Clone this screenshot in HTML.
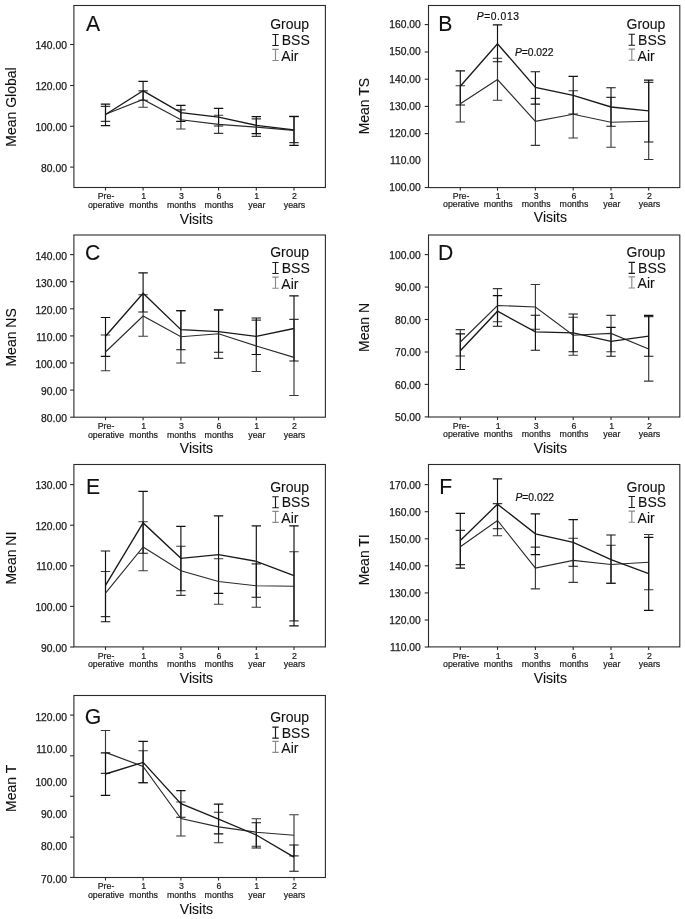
<!DOCTYPE html>
<html><head><meta charset="utf-8"><title>Figure</title><style>
html,body{margin:0;padding:0;background:#fff;}
svg{display:block;will-change:transform;}
text{font-family:"Liberation Sans", sans-serif;fill:#111;stroke:#111;stroke-width:0.1px;}
.bx{fill:none;stroke:#2a2a2a;stroke-width:1.1;}
.ax{stroke:#2a2a2a;stroke-width:1.1;}
.yl{font-size:10.3px;text-anchor:end;fill:#1a1a1a;stroke:#1a1a1a;stroke-width:0.25px;}
.yt{font-size:14px;text-anchor:middle;}
.xl{font-size:8.8px;text-anchor:middle;fill:#1a1a1a;stroke:#1a1a1a;stroke-width:0.2px;}
.xt{font-size:14px;text-anchor:middle;}
.lt{font-size:21.2px;}
.lg{font-size:14px;}
.an{font-size:10.3px;stroke-width:0.2px;}
.pi{font-style:italic;}
.eb{fill:none;stroke:#111;stroke-width:1.15;}
.ea{fill:none;stroke:#383838;stroke-width:1.15;}
.ib{fill:none;stroke:#1a1a1a;stroke-width:1.15;}
.ia{fill:none;stroke:#8a8a8a;stroke-width:1.15;}
.lb{fill:none;stroke:#1a1a1a;stroke-width:1.35;stroke-linejoin:miter;}
.la{fill:none;stroke:#2a2a2a;stroke-width:1.15;stroke-linejoin:miter;}
</style></head>
<body><svg width="685" height="919" viewBox="0 0 685 919">
<rect width="685" height="919" fill="#fff"/>
<rect x="73.9" y="5.5" width="251.5" height="182" class="bx"/>
<line x1="70.1" y1="44.5" x2="73.9" y2="44.5" class="ax"/>
<line x1="70.1" y1="85.5" x2="73.9" y2="85.5" class="ax"/>
<line x1="70.1" y1="126.3" x2="73.9" y2="126.3" class="ax"/>
<line x1="70.1" y1="167.1" x2="73.9" y2="167.1" class="ax"/>
<text x="66.9" y="49.4" class="yl">140.00</text>
<text x="66.9" y="90.4" class="yl">120.00</text>
<text x="66.9" y="131.2" class="yl">100.00</text>
<text x="66.9" y="172" class="yl">80.00</text>
<text transform="translate(15.6,107) rotate(-90)" class="yt">Mean Global</text>
<line x1="105.5" y1="187.5" x2="105.5" y2="190.5" class="ax"/>
<text x="106" y="199.4" class="xl">Pre-</text>
<text x="106" y="207.8" class="xl">operative</text>
<line x1="143.1" y1="187.5" x2="143.1" y2="190.5" class="ax"/>
<text x="143.6" y="199.4" class="xl">1</text>
<text x="143.6" y="207.8" class="xl">months</text>
<line x1="180.9" y1="187.5" x2="180.9" y2="190.5" class="ax"/>
<text x="181.4" y="199.4" class="xl">3</text>
<text x="181.4" y="207.8" class="xl">months</text>
<line x1="218.55" y1="187.5" x2="218.55" y2="190.5" class="ax"/>
<text x="219.05" y="199.4" class="xl">6</text>
<text x="219.05" y="207.8" class="xl">months</text>
<line x1="256.3" y1="187.5" x2="256.3" y2="190.5" class="ax"/>
<text x="256.8" y="199.4" class="xl">1</text>
<text x="256.8" y="207.8" class="xl">year</text>
<line x1="294" y1="187.5" x2="294" y2="190.5" class="ax"/>
<text x="294.5" y="199.4" class="xl">2</text>
<text x="294.5" y="207.8" class="xl">years</text>
<text x="196.47" y="223.9" class="xt">Visits</text>
<text transform="translate(86,31.3) scale(1,1.05)" class="lt">A</text>
<text x="270.2" y="29.1" class="lg">Group</text>
<text x="281.75" y="44.9" class="lg">BSS</text>
<text x="281.3" y="60.9" class="lg">Air</text>
<path d="M272.3 34.5H278.7M275.5 34.5V45.5M272.3 45.5H278.7" class="ib"/>
<path d="M272.3 49.4H278.7M275.5 49.4V60.5M272.3 60.5H278.7" class="ia"/>
<path d="M100.8 106.4H110.2M105.5 106.4V121.4M100.8 121.4H110.2M138.4 90.8H147.8M143.1 90.8V107.2M138.4 107.2H147.8M176.2 109.9H185.6M180.9 109.9V129M176.2 129H185.6M213.85 115.2H223.25M218.55 115.2V133.3M213.85 133.3H223.25M251.6 118.9H261M256.3 118.9V136.3M251.6 136.3H261M289.3 116.6H298.7M294 116.6V142.6M289.3 142.6H298.7" class="ea"/>
<path d="M100.8 104.1H110.2M105.5 104.1V125.6M100.8 125.6H110.2M138.4 81.4H147.8M143.1 81.4V100.2M138.4 100.2H147.8M176.2 105.3H185.6M180.9 105.3V121.4M176.2 121.4H185.6M213.85 108.3H223.25M218.55 108.3V126M213.85 126H223.25M251.6 116.6H261M256.3 116.6V133.6M251.6 133.6H261M289.3 116.3H298.7M294 116.3V145.4M289.3 145.4H298.7" class="eb"/>
<polyline points="105.5,114.2 143.1,99.5 180.9,119.8 218.55,124.4 256.3,127.1 294,130.4" class="la"/>
<polyline points="105.5,114.5 143.1,90.8 180.9,112.6 218.55,117.2 256.3,125.3 294,129.8" class="lb"/>
<rect x="428.5" y="5.5" width="251.3" height="182.1" class="bx"/>
<line x1="424.7" y1="24.6" x2="428.5" y2="24.6" class="ax"/>
<line x1="424.7" y1="52" x2="428.5" y2="52" class="ax"/>
<line x1="424.7" y1="79.2" x2="428.5" y2="79.2" class="ax"/>
<line x1="424.7" y1="106.4" x2="428.5" y2="106.4" class="ax"/>
<line x1="424.7" y1="133.6" x2="428.5" y2="133.6" class="ax"/>
<line x1="424.7" y1="187.5" x2="428.5" y2="187.5" class="ax"/>
<text x="420.8" y="28" class="yl">160.00</text>
<text x="420.8" y="55.4" class="yl">150.00</text>
<text x="420.8" y="82.6" class="yl">140.00</text>
<text x="420.8" y="109.8" class="yl">130.00</text>
<text x="420.8" y="137" class="yl">120.00</text>
<text x="420.8" y="163.6" class="yl">110.00</text>
<text x="420.8" y="190.6" class="yl">100.00</text>
<text transform="translate(368.8,106.1) rotate(-90)" class="yt">Mean TS</text>
<line x1="460.3" y1="187.6" x2="460.3" y2="190.6" class="ax"/>
<text x="461.1" y="198.7" class="xl">Pre-</text>
<text x="461.1" y="207.1" class="xl">operative</text>
<line x1="497.5" y1="187.6" x2="497.5" y2="190.6" class="ax"/>
<text x="498.3" y="198.7" class="xl">1</text>
<text x="498.3" y="207.1" class="xl">months</text>
<line x1="535.4" y1="187.6" x2="535.4" y2="190.6" class="ax"/>
<text x="536.2" y="198.7" class="xl">3</text>
<text x="536.2" y="207.1" class="xl">months</text>
<line x1="573.2" y1="187.6" x2="573.2" y2="190.6" class="ax"/>
<text x="574" y="198.7" class="xl">6</text>
<text x="574" y="207.1" class="xl">months</text>
<line x1="611" y1="187.6" x2="611" y2="190.6" class="ax"/>
<text x="611.8" y="198.7" class="xl">1</text>
<text x="611.8" y="207.1" class="xl">year</text>
<line x1="648.7" y1="187.6" x2="648.7" y2="190.6" class="ax"/>
<text x="649.5" y="198.7" class="xl">2</text>
<text x="649.5" y="207.1" class="xl">years</text>
<text x="550.4" y="222.3" class="xt">Visits</text>
<text transform="translate(438.3,31.3) scale(1,1.05)" class="lt">B</text>
<text x="626.5" y="29.1" class="lg">Group</text>
<text x="638.05" y="44.6" class="lg">BSS</text>
<text x="637.6" y="60.6" class="lg">Air</text>
<path d="M628.6 34.2H635M631.8 34.2V45.2M628.6 45.2H635" class="ib"/>
<path d="M628.6 49.1H635M631.8 49.1V60.2M628.6 60.2H635" class="ia"/>
<path d="M455.6 85.7H465M460.3 85.7V122M455.6 122H465M492.8 58.2H502.2M497.5 58.2V100.2M492.8 100.2H502.2M530.7 98.3H540.1M535.4 98.3V145.3M530.7 145.3H540.1M568.5 90.7H577.9M573.2 90.7V138M568.5 138H577.9M606.3 97.3H615.7M611 97.3V147.2M606.3 147.2H615.7M644 82.4H653.4M648.7 82.4V159.5M644 159.5H653.4" class="ea"/>
<path d="M455.6 70.8H465M460.3 70.8V105M455.6 105H465M492.8 24.9H502.2M497.5 24.9V61.7M492.8 61.7H502.2M530.7 71.7H540.1M535.4 71.7V104.1M530.7 104.1H540.1M568.5 76.3H577.9M573.2 76.3V114M568.5 114H577.9M606.3 87.7H615.7M611 87.7V126.2M606.3 126.2H615.7M644 80.1H653.4M648.7 80.1V142M644 142H653.4" class="eb"/>
<polyline points="460.3,103.7 497.5,79.6 535.4,121.3 573.2,114.3 611,122.2 648.7,121.3" class="la"/>
<polyline points="460.3,86.2 497.5,43.7 535.4,87.4 573.2,95.4 611,107 648.7,110.8" class="lb"/>
<text x="476.7" y="20.2" textLength="42.3" lengthAdjust="spacing" class="an"><tspan class="pi">P</tspan>=0.013</text>
<text x="514.9" y="56.4" textLength="38.5" lengthAdjust="spacing" class="an"><tspan class="pi">P</tspan>=0.022</text>
<rect x="73.9" y="235" width="251.5" height="182.2" class="bx"/>
<line x1="70.1" y1="254.6" x2="73.9" y2="254.6" class="ax"/>
<line x1="70.1" y1="281.7" x2="73.9" y2="281.7" class="ax"/>
<line x1="70.1" y1="308.8" x2="73.9" y2="308.8" class="ax"/>
<line x1="70.1" y1="335.9" x2="73.9" y2="335.9" class="ax"/>
<line x1="70.1" y1="363" x2="73.9" y2="363" class="ax"/>
<line x1="70.1" y1="390.1" x2="73.9" y2="390.1" class="ax"/>
<line x1="70.1" y1="417.2" x2="73.9" y2="417.2" class="ax"/>
<text x="66.9" y="259.5" class="yl">140.00</text>
<text x="66.9" y="286.6" class="yl">130.00</text>
<text x="66.9" y="313.7" class="yl">120.00</text>
<text x="66.9" y="340.8" class="yl">110.00</text>
<text x="66.9" y="367.9" class="yl">100.00</text>
<text x="66.9" y="395" class="yl">90.00</text>
<text x="66.9" y="422.1" class="yl">80.00</text>
<text transform="translate(15.7,337.4) rotate(-90)" class="yt">Mean NS</text>
<line x1="105.5" y1="417.2" x2="105.5" y2="420.2" class="ax"/>
<text x="106" y="429.1" class="xl">Pre-</text>
<text x="106" y="437.5" class="xl">operative</text>
<line x1="143.1" y1="417.2" x2="143.1" y2="420.2" class="ax"/>
<text x="143.6" y="429.1" class="xl">1</text>
<text x="143.6" y="437.5" class="xl">months</text>
<line x1="180.9" y1="417.2" x2="180.9" y2="420.2" class="ax"/>
<text x="181.4" y="429.1" class="xl">3</text>
<text x="181.4" y="437.5" class="xl">months</text>
<line x1="218.55" y1="417.2" x2="218.55" y2="420.2" class="ax"/>
<text x="219.05" y="429.1" class="xl">6</text>
<text x="219.05" y="437.5" class="xl">months</text>
<line x1="256.3" y1="417.2" x2="256.3" y2="420.2" class="ax"/>
<text x="256.8" y="429.1" class="xl">1</text>
<text x="256.8" y="437.5" class="xl">year</text>
<line x1="294" y1="417.2" x2="294" y2="420.2" class="ax"/>
<text x="294.5" y="429.1" class="xl">2</text>
<text x="294.5" y="437.5" class="xl">years</text>
<text x="196.47" y="453" class="xt">Visits</text>
<text transform="translate(84.9,259.7) scale(1,1.05)" class="lt">C</text>
<text x="270.2" y="256.9" class="lg">Group</text>
<text x="281.75" y="272.9" class="lg">BSS</text>
<text x="281.3" y="288.6" class="lg">Air</text>
<path d="M272.3 262.5H278.7M275.5 262.5V273.5M272.3 273.5H278.7" class="ib"/>
<path d="M272.3 277.1H278.7M275.5 277.1V288.2M272.3 288.2H278.7" class="ia"/>
<path d="M100.8 335H110.2M105.5 335V370.7M100.8 370.7H110.2M138.4 294.7H147.8M143.1 294.7V336.2M138.4 336.2H147.8M176.2 311H185.6M180.9 311V363M176.2 363H185.6M213.85 310H223.25M218.55 310V358.3M213.85 358.3H223.25M251.6 320.1H261M256.3 320.1V371.5M251.6 371.5H261M289.3 319.4H298.7M294 319.4V395.5M289.3 395.5H298.7" class="ea"/>
<path d="M100.8 317.5H110.2M105.5 317.5V356.4M100.8 356.4H110.2M138.4 272.8H147.8M143.1 272.8V312M138.4 312H147.8M176.2 310.5H185.6M180.9 310.5V349.7M176.2 349.7H185.6M213.85 309.8H223.25M218.55 309.8V352.2M213.85 352.2H223.25M251.6 318H261M256.3 318V354.5M251.6 354.5H261M289.3 295.8H298.7M294 295.8V361M289.3 361H298.7" class="eb"/>
<polyline points="105.5,352 143.1,316 180.9,336.7 218.55,333.8 256.3,346 294,357.4" class="la"/>
<polyline points="105.5,336.2 143.1,293.3 180.9,329.7 218.55,331.7 256.3,336.4 294,328.5" class="lb"/>
<rect x="428.5" y="235" width="251.3" height="182" class="bx"/>
<line x1="424.7" y1="254.6" x2="428.5" y2="254.6" class="ax"/>
<line x1="424.7" y1="287.1" x2="428.5" y2="287.1" class="ax"/>
<line x1="424.7" y1="319.5" x2="428.5" y2="319.5" class="ax"/>
<line x1="424.7" y1="352" x2="428.5" y2="352" class="ax"/>
<line x1="424.7" y1="384.4" x2="428.5" y2="384.4" class="ax"/>
<line x1="424.7" y1="416.9" x2="428.5" y2="416.9" class="ax"/>
<text x="420.8" y="258.8" class="yl">100.00</text>
<text x="420.8" y="291.3" class="yl">90.00</text>
<text x="420.8" y="323.7" class="yl">80.00</text>
<text x="420.8" y="356.2" class="yl">70.00</text>
<text x="420.8" y="388.6" class="yl">60.00</text>
<text x="420.8" y="421.1" class="yl">50.00</text>
<text transform="translate(368.8,327.4) rotate(-90)" class="yt">Mean N</text>
<line x1="460.3" y1="417" x2="460.3" y2="420" class="ax"/>
<text x="461.1" y="428.9" class="xl">Pre-</text>
<text x="461.1" y="437.3" class="xl">operative</text>
<line x1="497.5" y1="417" x2="497.5" y2="420" class="ax"/>
<text x="498.3" y="428.9" class="xl">1</text>
<text x="498.3" y="437.3" class="xl">months</text>
<line x1="535.4" y1="417" x2="535.4" y2="420" class="ax"/>
<text x="536.2" y="428.9" class="xl">3</text>
<text x="536.2" y="437.3" class="xl">months</text>
<line x1="573.2" y1="417" x2="573.2" y2="420" class="ax"/>
<text x="574" y="428.9" class="xl">6</text>
<text x="574" y="437.3" class="xl">months</text>
<line x1="611" y1="417" x2="611" y2="420" class="ax"/>
<text x="611.8" y="428.9" class="xl">1</text>
<text x="611.8" y="437.3" class="xl">year</text>
<line x1="648.7" y1="417" x2="648.7" y2="420" class="ax"/>
<text x="649.5" y="428.9" class="xl">2</text>
<text x="649.5" y="437.3" class="xl">years</text>
<text x="550.4" y="453" class="xt">Visits</text>
<text transform="translate(438,260) scale(1,1.05)" class="lt">D</text>
<text x="626.5" y="257.1" class="lg">Group</text>
<text x="638.05" y="272.8" class="lg">BSS</text>
<text x="637.6" y="288.4" class="lg">Air</text>
<path d="M628.6 262.4H635M631.8 262.4V273.4M628.6 273.4H635" class="ib"/>
<path d="M628.6 276.9H635M631.8 276.9V288M628.6 288H635" class="ia"/>
<path d="M455.6 329.6H465M460.3 329.6V356M455.6 356H465M492.8 288.6H502.2M497.5 288.6V321.7M492.8 321.7H502.2M530.7 284.5H540.1M535.4 284.5V329.2M530.7 329.2H540.1M568.5 317.2H577.9M573.2 317.2V355.2M568.5 355.2H577.9M606.3 315.4H615.7M611 315.4V351.7M606.3 351.7H615.7M644 316.6H653.4M648.7 316.6V381.1M644 381.1H653.4" class="ea"/>
<path d="M455.6 333.9H465M460.3 333.9V369.5M455.6 369.5H465M492.8 295.6H502.2M497.5 295.6V326.2M492.8 326.2H502.2M530.7 315.2H540.1M535.4 315.2V350.2M530.7 350.2H540.1M568.5 314H577.9M573.2 314V351.7M568.5 351.7H577.9M606.3 327.3H615.7M611 327.3V356.2M606.3 356.2H615.7M644 315.4H653.4M648.7 315.4V356.2M644 356.2H653.4" class="eb"/>
<polyline points="460.3,342 497.5,305.5 535.4,307 573.2,335.2 611,333.4 648.7,349" class="la"/>
<polyline points="460.3,350.7 497.5,311.2 535.4,331.8 573.2,332.9 611,341.3 648.7,336.1" class="lb"/>
<rect x="73.9" y="464.5" width="251.5" height="182.4" class="bx"/>
<line x1="70.1" y1="484.6" x2="73.9" y2="484.6" class="ax"/>
<line x1="70.1" y1="525.2" x2="73.9" y2="525.2" class="ax"/>
<line x1="70.1" y1="565.8" x2="73.9" y2="565.8" class="ax"/>
<line x1="70.1" y1="606.4" x2="73.9" y2="606.4" class="ax"/>
<line x1="70.1" y1="647" x2="73.9" y2="647" class="ax"/>
<text x="66.9" y="489.1" class="yl">130.00</text>
<text x="66.9" y="529.7" class="yl">120.00</text>
<text x="66.9" y="570.3" class="yl">110.00</text>
<text x="66.9" y="610.9" class="yl">100.00</text>
<text x="66.9" y="651.5" class="yl">90.00</text>
<text transform="translate(15.7,558.1) rotate(-90)" class="yt">Mean NI</text>
<line x1="105.5" y1="646.9" x2="105.5" y2="649.9" class="ax"/>
<text x="106" y="658.8" class="xl">Pre-</text>
<text x="106" y="667.2" class="xl">operative</text>
<line x1="143.1" y1="646.9" x2="143.1" y2="649.9" class="ax"/>
<text x="143.6" y="658.8" class="xl">1</text>
<text x="143.6" y="667.2" class="xl">months</text>
<line x1="180.9" y1="646.9" x2="180.9" y2="649.9" class="ax"/>
<text x="181.4" y="658.8" class="xl">3</text>
<text x="181.4" y="667.2" class="xl">months</text>
<line x1="218.55" y1="646.9" x2="218.55" y2="649.9" class="ax"/>
<text x="219.05" y="658.8" class="xl">6</text>
<text x="219.05" y="667.2" class="xl">months</text>
<line x1="256.3" y1="646.9" x2="256.3" y2="649.9" class="ax"/>
<text x="256.8" y="658.8" class="xl">1</text>
<text x="256.8" y="667.2" class="xl">year</text>
<line x1="294" y1="646.9" x2="294" y2="649.9" class="ax"/>
<text x="294.5" y="658.8" class="xl">2</text>
<text x="294.5" y="667.2" class="xl">years</text>
<text x="196.47" y="683" class="xt">Visits</text>
<text transform="translate(85.9,494.3) scale(1,1.05)" class="lt">E</text>
<text x="270.2" y="491.8" class="lg">Group</text>
<text x="281.75" y="507.1" class="lg">BSS</text>
<text x="281.3" y="522.8" class="lg">Air</text>
<path d="M272.3 496.7H278.7M275.5 496.7V507.7M272.3 507.7H278.7" class="ib"/>
<path d="M272.3 511.3H278.7M275.5 511.3V522.4M272.3 522.4H278.7" class="ia"/>
<path d="M100.8 571.5H110.2M105.5 571.5V616.6M100.8 616.6H110.2M138.4 521.7H147.8M143.1 521.7V570.7M138.4 570.7H147.8M176.2 546.2H185.6M180.9 546.2V595.3M176.2 595.3H185.6M213.85 558.7H223.25M218.55 558.7V604.2M213.85 604.2H223.25M251.6 563.9H261M256.3 563.9V607.2M251.6 607.2H261M289.3 551.7H298.7M294 551.7V620.9M289.3 620.9H298.7" class="ea"/>
<path d="M100.8 551H110.2M105.5 551V621.7M100.8 621.7H110.2M138.4 491.4H147.8M143.1 491.4V553.2M138.4 553.2H147.8M176.2 526.4H185.6M180.9 526.4V590.7M176.2 590.7H185.6M213.85 515.8H223.25M218.55 515.8V593.4M213.85 593.4H223.25M251.6 525.9H261M256.3 525.9V597.2M251.6 597.2H261M289.3 525.9H298.7M294 525.9V625.8M289.3 625.8H298.7" class="eb"/>
<polyline points="105.5,593.2 143.1,546.9 180.9,570.7 218.55,581.5 256.3,585.8 294,586.2" class="la"/>
<polyline points="105.5,585.3 143.1,522.9 180.9,558.3 218.55,554.7 256.3,561.3 294,575.7" class="lb"/>
<rect x="428.5" y="464.5" width="251.3" height="182.4" class="bx"/>
<line x1="424.7" y1="484.6" x2="428.5" y2="484.6" class="ax"/>
<line x1="424.7" y1="511.7" x2="428.5" y2="511.7" class="ax"/>
<line x1="424.7" y1="538.8" x2="428.5" y2="538.8" class="ax"/>
<line x1="424.7" y1="565.8" x2="428.5" y2="565.8" class="ax"/>
<line x1="424.7" y1="592.9" x2="428.5" y2="592.9" class="ax"/>
<line x1="424.7" y1="620" x2="428.5" y2="620" class="ax"/>
<line x1="424.7" y1="647" x2="428.5" y2="647" class="ax"/>
<text x="420.8" y="488.8" class="yl">170.00</text>
<text x="420.8" y="515.9" class="yl">160.00</text>
<text x="420.8" y="543" class="yl">150.00</text>
<text x="420.8" y="570" class="yl">140.00</text>
<text x="420.8" y="597.1" class="yl">130.00</text>
<text x="420.8" y="624.2" class="yl">120.00</text>
<text x="420.8" y="651.2" class="yl">110.00</text>
<text transform="translate(368.5,559.8) rotate(-90)" class="yt">Mean TI</text>
<line x1="460.3" y1="646.9" x2="460.3" y2="649.9" class="ax"/>
<text x="461.1" y="658.8" class="xl">Pre-</text>
<text x="461.1" y="667.2" class="xl">operative</text>
<line x1="497.5" y1="646.9" x2="497.5" y2="649.9" class="ax"/>
<text x="498.3" y="658.8" class="xl">1</text>
<text x="498.3" y="667.2" class="xl">months</text>
<line x1="535.4" y1="646.9" x2="535.4" y2="649.9" class="ax"/>
<text x="536.2" y="658.8" class="xl">3</text>
<text x="536.2" y="667.2" class="xl">months</text>
<line x1="573.2" y1="646.9" x2="573.2" y2="649.9" class="ax"/>
<text x="574" y="658.8" class="xl">6</text>
<text x="574" y="667.2" class="xl">months</text>
<line x1="611" y1="646.9" x2="611" y2="649.9" class="ax"/>
<text x="611.8" y="658.8" class="xl">1</text>
<text x="611.8" y="667.2" class="xl">year</text>
<line x1="648.7" y1="646.9" x2="648.7" y2="649.9" class="ax"/>
<text x="649.5" y="658.8" class="xl">2</text>
<text x="649.5" y="667.2" class="xl">years</text>
<text x="550.4" y="683" class="xt">Visits</text>
<text transform="translate(439.2,494.3) scale(1,1.05)" class="lt">F</text>
<text x="626.5" y="492" class="lg">Group</text>
<text x="638.05" y="506.9" class="lg">BSS</text>
<text x="637.6" y="522.6" class="lg">Air</text>
<path d="M628.6 496.5H635M631.8 496.5V507.5M628.6 507.5H635" class="ib"/>
<path d="M628.6 511.1H635M631.8 511.1V522.2M628.6 522.2H635" class="ia"/>
<path d="M455.6 530.4H465M460.3 530.4V564.6M455.6 564.6H465M492.8 503.6H502.2M497.5 503.6V535.7M492.8 535.7H502.2M530.7 547.1H540.1M535.4 547.1V588.8M530.7 588.8H540.1M568.5 538.2H577.9M573.2 538.2V582.3M568.5 582.3H577.9M606.3 545.2H615.7M611 545.2V583.2M606.3 583.2H615.7M644 534.5H653.4M648.7 534.5V589.7M644 589.7H653.4" class="ea"/>
<path d="M455.6 513.3H465M460.3 513.3V568.1M455.6 568.1H465M492.8 478.8H502.2M497.5 478.8V528.7M492.8 528.7H502.2M530.7 513.8H540.1M535.4 513.8V554.6M530.7 554.6H540.1M568.5 519.6H577.9M573.2 519.6V566.2M568.5 566.2H577.9M606.3 535H615.7M611 535V583.2M606.3 583.2H615.7M644 537.3H653.4M648.7 537.3V610.4M644 610.4H653.4" class="eb"/>
<polyline points="460.3,546.7 497.5,520.5 535.4,568.1 573.2,560.4 611,564.5 648.7,562.2" class="la"/>
<polyline points="460.3,540.4 497.5,504.2 535.4,533.9 573.2,542.4 611,559.6 648.7,573.6" class="lb"/>
<text x="515.5" y="501.1" textLength="38.6" lengthAdjust="spacing" class="an"><tspan class="pi">P</tspan>=0.022</text>
<rect x="73.9" y="695.5" width="251.5" height="182" class="bx"/>
<line x1="70.1" y1="715.1" x2="73.9" y2="715.1" class="ax"/>
<line x1="70.1" y1="755.8" x2="73.9" y2="755.8" class="ax"/>
<line x1="70.1" y1="796.3" x2="73.9" y2="796.3" class="ax"/>
<line x1="70.1" y1="837.1" x2="73.9" y2="837.1" class="ax"/>
<line x1="70.1" y1="877.4" x2="73.9" y2="877.4" class="ax"/>
<text x="66.9" y="720.5" class="yl">120.00</text>
<text x="66.9" y="753.2" class="yl">110.00</text>
<text x="66.9" y="785.5" class="yl">100.00</text>
<text x="66.9" y="818" class="yl">90.00</text>
<text x="66.9" y="850.3" class="yl">80.00</text>
<text x="66.9" y="883.1" class="yl">70.00</text>
<text transform="translate(16,788.4) rotate(-90)" class="yt">Mean T</text>
<line x1="105.5" y1="877.5" x2="105.5" y2="880.5" class="ax"/>
<text x="106" y="889.4" class="xl">Pre-</text>
<text x="106" y="897.8" class="xl">operative</text>
<line x1="143.1" y1="877.5" x2="143.1" y2="880.5" class="ax"/>
<text x="143.6" y="889.4" class="xl">1</text>
<text x="143.6" y="897.8" class="xl">months</text>
<line x1="180.9" y1="877.5" x2="180.9" y2="880.5" class="ax"/>
<text x="181.4" y="889.4" class="xl">3</text>
<text x="181.4" y="897.8" class="xl">months</text>
<line x1="218.55" y1="877.5" x2="218.55" y2="880.5" class="ax"/>
<text x="219.05" y="889.4" class="xl">6</text>
<text x="219.05" y="897.8" class="xl">months</text>
<line x1="256.3" y1="877.5" x2="256.3" y2="880.5" class="ax"/>
<text x="256.8" y="889.4" class="xl">1</text>
<text x="256.8" y="897.8" class="xl">year</text>
<line x1="294" y1="877.5" x2="294" y2="880.5" class="ax"/>
<text x="294.5" y="889.4" class="xl">2</text>
<text x="294.5" y="897.8" class="xl">years</text>
<text x="196.47" y="913.6" class="xt">Visits</text>
<text transform="translate(84.7,724.1) scale(1,1.05)" class="lt">G</text>
<text x="270.2" y="721.8" class="lg">Group</text>
<text x="281.75" y="737.5" class="lg">BSS</text>
<text x="281.3" y="752.8" class="lg">Air</text>
<path d="M272.3 727.1H278.7M275.5 727.1V738.1M272.3 738.1H278.7" class="ib"/>
<path d="M272.3 741.3H278.7M275.5 741.3V752.4M272.3 752.4H278.7" class="ia"/>
<path d="M100.8 730.5H110.2M105.5 730.5V773.4M100.8 773.4H110.2M138.4 750.7H147.8M143.1 750.7V782.7M138.4 782.7H147.8M176.2 802H185.6M180.9 802V836M176.2 836H185.6M213.85 812.2H223.25M218.55 812.2V842.7M213.85 842.7H223.25M251.6 818.7H261M256.3 818.7V846.2M251.6 846.2H261M289.3 814.7H298.7M294 814.7V855.8M289.3 855.8H298.7" class="ea"/>
<path d="M100.8 752.9H110.2M105.5 752.9V795.3M100.8 795.3H110.2M138.4 741.4H147.8M143.1 741.4V782.7M138.4 782.7H147.8M176.2 790.6H185.6M180.9 790.6V817.2M176.2 817.2H185.6M213.85 804.1H223.25M218.55 804.1V833.9M213.85 833.9H223.25M251.6 822.7H261M256.3 822.7V848M251.6 848H261M289.3 845H298.7M294 845V871.2M289.3 871.2H298.7" class="eb"/>
<polyline points="105.5,752.4 143.1,766.4 180.9,818.5 218.55,826.9 256.3,832.2 294,835.3" class="la"/>
<polyline points="105.5,774 143.1,762.4 180.9,803.7 218.55,819.2 256.3,835 294,857.2" class="lb"/>
</svg></body></html>
